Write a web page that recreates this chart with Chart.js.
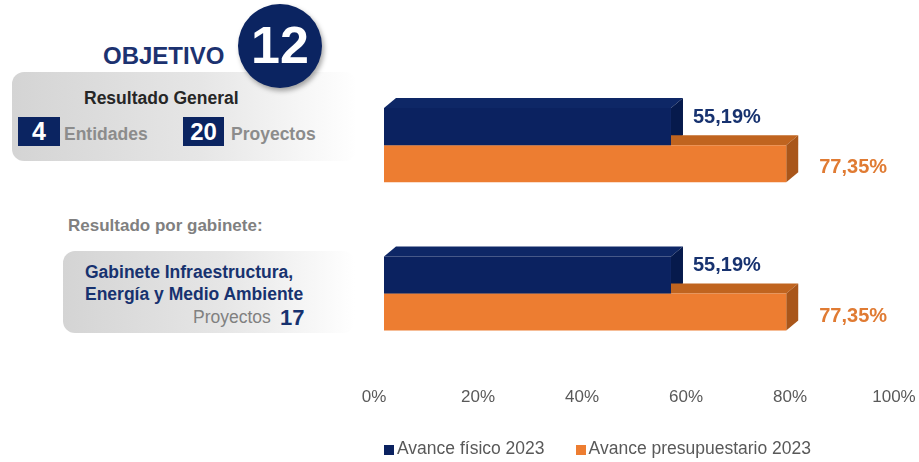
<!DOCTYPE html>
<html lang="es">
<head>
<meta charset="utf-8">
<script src="https://cdn.jsdelivr.net/npm/chart.js@4.4.1/dist/chart.umd.min.js"></script>
<style>
    body { margin: 0; background: #fff; font-family: Arial, "Liberation Sans", sans-serif; }
    #wrap { position: relative; width: 919px; height: 462px; overflow: hidden; }
    #chart { position: absolute; left: 0; top: 0; }
    .abs { position: absolute; white-space: nowrap; line-height: 1; }
    .panel { position: absolute; border-radius: 12px; background: linear-gradient(90deg, #d4d4d4 0%, #e6e6e6 55%, #ffffff 100%); }
    .box { position: absolute; background: #0b2461; color: #fff; font-weight: bold; text-align: center; }
    .legend { position: absolute; left: 384px; top: 440px; font-size: 17.5px; line-height: 17px; color: #595959; display: flex; gap: 31px; white-space: nowrap; }
    .legend span.sw { display: inline-block; width: 10px; height: 10px; margin-right: 3px; vertical-align: -1px; }
</style>
</head>
<body>
<div id="wrap">
    <div class="panel" style="left:12px; top:72px; width:345px; height:89px;"></div>
    <div class="abs" style="left:103px; top:44px; font-size:24px; font-weight:bold; color:#1c3270;">OBJETIVO</div>
    <div class="abs" style="left:238px; top:4px; width:84px; height:84px; border-radius:50%; background:#0b2461; box-shadow:2px 3px 5px rgba(0,0,0,0.35);"></div>
    <div class="abs" style="left:238px; top:19px; width:84px; text-align:center; font-size:52px; font-weight:bold; color:#fff;">12</div>
    <div class="abs" style="left:84px; top:90px; font-size:17.5px; font-weight:bold; color:#262626;">Resultado General</div>
    <div class="box" style="left:18px; top:117px; width:42px; height:29px; font-size:25px; line-height:29px;">4</div>
    <div class="abs" style="left:64px; top:126px; font-size:17.5px; font-weight:bold; color:#8c8c8c;">Entidades</div>
    <div class="box" style="left:183px; top:117px; width:41px; height:29px; font-size:24px; line-height:29px;">20</div>
    <div class="abs" style="left:231px; top:126px; font-size:17.5px; font-weight:bold; color:#8c8c8c;">Proyectos</div>

    <div class="abs" style="left:68px; top:217px; font-size:17px; font-weight:bold; color:#808080;">Resultado por gabinete:</div>
    <div class="panel" style="left:63px; top:251px; width:292px; height:82px;"></div>
    <div class="abs" style="left:85px; top:264px; font-size:17.5px; font-weight:bold; color:#17326f;">Gabinete Infraestructura,</div>
    <div class="abs" style="left:85px; top:286px; font-size:17.5px; font-weight:bold; color:#17326f;">Energía y Medio Ambiente</div>
    <div class="abs" style="left:193px; top:309px; font-size:17.5px; color:#808080;">Proyectos</div>
    <div class="abs" style="left:280px; top:307px; font-size:22px; font-weight:bold; color:#17326f;">17</div>

    <canvas id="chart" width="919" height="462"></canvas>
    <div class="legend" id="legend"></div>
</div>
<script>
const categories = ['Resultado General', 'Gabinete Infraestructura, Energía y Medio Ambiente'];
const seriesNames = ['Avance físico 2023', 'Avance presupuestario 2023'];
const fisico = [55.19, 55.19];
const presupuestario = [77.35, 77.35];
const xTicks = [0, 20, 40, 60, 80, 100];

const frontColors = ['#0b2260', '#ed7d31'];
const topColors = ['#0e2766', '#c0641f'];
const sideColors = ['#061a4c', '#a9561a'];
const labelColors = ['#17326f', '#e07b33'];
const DX = 12, DY = 10;

// 3D faces (top + right side), drawn before the front faces
const bar3d = {
    id: 'bar3d',
    beforeDatasetsDraw(chart) {
        const ctx = chart.ctx;
        chart.data.datasets.forEach((ds, i) => {
            chart.getDatasetMeta(i).data.forEach(bar => {
                const x0 = bar.base, x1 = bar.x;
                const y0 = bar.y - bar.height / 2, y1 = bar.y + bar.height / 2;
                ctx.save();
                ctx.fillStyle = topColors[i];
                ctx.beginPath();
                ctx.moveTo(x0, y0); ctx.lineTo(x1, y0);
                ctx.lineTo(x1 + DX, y0 - DY); ctx.lineTo(x0 + DX, y0 - DY);
                ctx.closePath(); ctx.fill();
                ctx.fillStyle = sideColors[i];
                ctx.beginPath();
                ctx.moveTo(x1, y0); ctx.lineTo(x1 + DX, y0 - DY);
                ctx.lineTo(x1 + DX, y1 - DY); ctx.lineTo(x1, y1);
                ctx.closePath(); ctx.fill();
                ctx.restore();
            });
        });
    },
    afterDatasetsDraw(chart) {
        const ctx = chart.ctx;
        const offX = [10, 21], offY = [-9, 4];
        ctx.save();
        ctx.font = 'bold 20px Arial, "Liberation Sans", sans-serif';
        ctx.textBaseline = 'middle';
        chart.data.datasets.forEach((ds, i) => {
            chart.getDatasetMeta(i).data.forEach((bar, j) => {
                ctx.fillStyle = labelColors[i];
                const txt = ds.data[j].toFixed(2).replace('.', ',') + '%';
                ctx.fillText(txt, bar.x + DX + offX[i], bar.y + offY[i]);
            });
        });
        ctx.restore();
    }
};

new Chart(document.getElementById('chart'), {
    type: 'bar',
    data: {
        labels: categories,
        datasets: [
            { label: seriesNames[0], data: fisico, backgroundColor: frontColors[0] },
            { label: seriesNames[1], data: presupuestario, backgroundColor: frontColors[1] }
        ]
    },
    options: {
        indexAxis: 'y',
        responsive: false,
        animation: false,
        layout: { padding: { left: 384, right: 15, top: 71, bottom: 34 } },
        datasets: { bar: { categoryPercentage: 0.5, barPercentage: 1 } },
        plugins: { legend: { display: false }, tooltip: { enabled: false } },
        scales: {
            y: { display: false },
            x: {
                min: 0, max: 100,
                afterBuildTicks: s => { s.ticks = xTicks.map(v => ({ value: v })); },
                afterFit: s => { s.paddingLeft = 0; s.paddingRight = 0; },
                grid: { display: false, drawTicks: false },
                border: { display: false },
                ticks: {
                    padding: 20,
                    labelOffset: -10,
                    color: '#595959',
                    font: { size: 17, family: 'Arial, "Liberation Sans", sans-serif' },
                    callback: v => v + '%'
                }
            }
        }
    },
    plugins: [bar3d]
});

document.getElementById('legend').innerHTML = seriesNames.map((n, i) =>
    `<div><span class="sw" style="background:${frontColors[i]}"></span>${n}</div>`).join('');
</script>
</body>
</html>
